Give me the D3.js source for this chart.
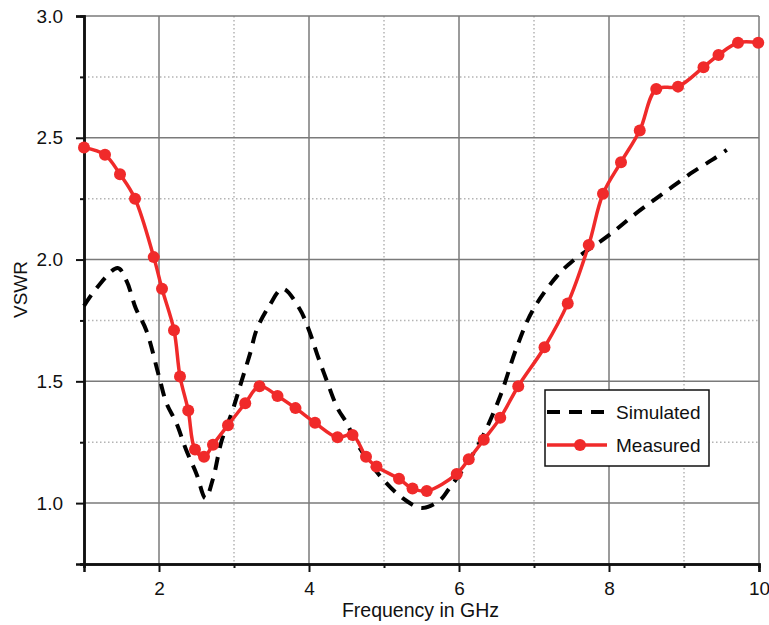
<!DOCTYPE html>
<html>
<head>
<meta charset="utf-8">
<script src="https://cdn.jsdelivr.net/npm/d3@7"></script>
<style>
  body { margin: 0; background: #fff; }
  text { font-family: Arial, "Liberation Sans", sans-serif; fill: #111; }
</style>
</head>
<body>
<div id="chart"></div>
<script>
// Data
const simFreq = [1.0, 1.16, 1.45, 1.57, 1.69, 1.83, 2.0, 2.1, 2.23, 2.36, 2.5, 2.62, 2.72, 2.83, 2.98, 3.1, 3.22, 3.3, 3.47, 3.65, 3.87, 4.0, 4.11, 4.24, 4.38, 4.5, 4.63, 4.8, 4.98, 5.25, 5.5, 5.74, 5.87, 6.1, 6.31, 6.55, 6.77, 6.98, 7.3, 7.5, 8.0, 8.32, 8.58, 8.85, 9.12, 9.38, 9.57];
const simVswr = [1.81, 1.88, 1.965, 1.91, 1.80, 1.71, 1.52, 1.41, 1.33, 1.22, 1.12, 1.02, 1.10, 1.25, 1.38, 1.50, 1.62, 1.71, 1.81, 1.88, 1.80, 1.71, 1.61, 1.50, 1.39, 1.33, 1.25, 1.17, 1.10, 1.02, 0.98, 1.01, 1.06, 1.16, 1.27, 1.44, 1.64, 1.79, 1.93, 1.99, 2.10, 2.18, 2.24, 2.30, 2.36, 2.41, 2.45];

const measFreq = [1.0, 1.28, 1.48, 1.68, 1.93, 2.04, 2.2, 2.28, 2.39, 2.48, 2.6, 2.72, 2.92, 3.15, 3.34, 3.58, 3.82, 4.08, 4.38, 4.58, 4.76, 4.9, 5.2, 5.38, 5.57, 5.97, 6.13, 6.33, 6.55, 6.79, 7.14, 7.45, 7.73, 7.92, 8.16, 8.41, 8.63, 8.92, 9.26, 9.46, 9.72, 9.99];
const measVswr = [2.46, 2.43, 2.35, 2.25, 2.01, 1.88, 1.71, 1.52, 1.38, 1.22, 1.19, 1.24, 1.32, 1.41, 1.48, 1.44, 1.39, 1.33, 1.27, 1.28, 1.19, 1.15, 1.10, 1.06, 1.05, 1.12, 1.18, 1.26, 1.35, 1.48, 1.64, 1.82, 2.06, 2.27, 2.40, 2.53, 2.70, 2.71, 2.79, 2.84, 2.89, 2.89];

const xMajor = [2, 4, 6, 8, 10];
const xMinor = [1, 3, 5, 7, 9];
const yMajor = [1.0, 1.5, 2.0, 2.5, 3.0];
const yMinor = [0.75, 1.25, 1.75, 2.25, 2.75];
const seriesNames = ["Simulated", "Measured"];

const margin = { top: 16, right: 10, bottom: 61, left: 84 };
const width = 769 - margin.left - margin.right;
const height = 625 - margin.top - margin.bottom;

const svg = d3.select("#chart")
    .append("svg")
    .attr("width", 769)
    .attr("height", 625)
    .append("g")
    .attr("transform", `translate(${margin.left},${margin.top})`);

const x = d3.scaleLinear().domain([1, 10]).range([0, width]);
const y = d3.scaleLinear().domain([0.75, 3.0]).range([height, 0]);

const red = "#f02a2a";

// minor grid (dotted)
svg.selectAll(".gx-minor").data(xMinor.filter(d => d > 1)).join("line")
    .attr("x1", d => x(d)).attr("x2", d => x(d))
    .attr("y1", 0).attr("y2", height)
    .attr("stroke", "#b4b4b4").attr("stroke-width", 1.5).attr("stroke-dasharray", "1.5,2.5");
svg.selectAll(".gy-minor").data(yMinor.filter(d => d > 0.75)).join("line")
    .attr("y1", d => y(d)).attr("y2", d => y(d))
    .attr("x1", 0).attr("x2", width)
    .attr("stroke", "#b4b4b4").attr("stroke-width", 1.5).attr("stroke-dasharray", "1.5,2.5");

// major grid (solid)
svg.selectAll(".gx-major").data(xMajor).join("line")
    .attr("x1", d => x(d)).attr("x2", d => x(d))
    .attr("y1", 0).attr("y2", height)
    .attr("stroke", "#7a7a7a").attr("stroke-width", 1.5);
svg.selectAll(".gy-major").data(yMajor).join("line")
    .attr("y1", d => y(d)).attr("y2", d => y(d))
    .attr("x1", 0).attr("x2", width)
    .attr("stroke", "#7a7a7a").attr("stroke-width", 1.5);

// axes
svg.append("g")
    .attr("transform", `translate(0,${height})`)
    .call(d3.axisBottom(x).tickValues(xMajor).tickFormat(d3.format("d")).tickSizeOuter(0).tickSize(8).tickPadding(10));
svg.append("g")
    .call(d3.axisLeft(y).tickValues(yMajor).tickFormat(d3.format(".1f")).tickSizeOuter(0).tickSize(8).tickPadding(13));
svg.append("g")
    .attr("transform", `translate(0,${height})`)
    .call(d3.axisBottom(x).tickValues(xMinor).tickFormat("").tickSizeOuter(0).tickSize(4));
svg.append("g")
    .call(d3.axisLeft(y).tickValues(yMinor).tickFormat("").tickSizeOuter(0).tickSize(4));

svg.selectAll(".domain").attr("stroke", "#111").attr("stroke-width", 2.5);
svg.selectAll(".tick line").attr("stroke", "#111").attr("stroke-width", 2);
svg.selectAll(".tick text").style("font-size", "19px").attr("fill", "#111");

// axis titles
svg.append("text")
    .attr("x", width / 2 - 1)
    .attr("y", height + 53)
    .attr("text-anchor", "middle")
    .style("font-size", "19.5px")
    .text("Frequency in GHz");

svg.append("text")
    .attr("transform", "rotate(-90)")
    .attr("x", -(y(2.0) + 30))
    .attr("y", -margin.left + 27)
    .attr("text-anchor", "middle")
    .style("font-size", "19px")
    .text("VSWR");

// series
const simData = simFreq.map((f, i) => ({ f, v: simVswr[i] }));
const measData = measFreq.map((f, i) => ({ f, v: measVswr[i] }));

const line = d3.line()
    .x(d => x(d.f))
    .y(d => y(d.v))
    .curve(d3.curveCatmullRom.alpha(0.5));

svg.append("path")
    .datum(simData)
    .attr("fill", "none")
    .attr("stroke", "#000")
    .attr("stroke-width", 4)
    .attr("stroke-dasharray", "13,9")
    .attr("d", line);

svg.append("path")
    .datum(measData)
    .attr("fill", "none")
    .attr("stroke", red)
    .attr("stroke-width", 3.5)
    .attr("d", line);

svg.selectAll(".meas-pt").data(measData).join("circle")
    .attr("cx", d => x(d.f))
    .attr("cy", d => y(d.v))
    .attr("r", 6)
    .attr("fill", red);

// legend
const lg = svg.append("g").attr("transform", `translate(${545 - margin.left},${390 - margin.top})`);
lg.append("rect")
    .attr("width", 164).attr("height", 76)
    .attr("fill", "#fff").attr("stroke", "#111").attr("stroke-width", 1.5);
lg.append("line")
    .attr("x1", 2).attr("x2", 62).attr("y1", 22).attr("y2", 22)
    .attr("stroke", "#000").attr("stroke-width", 4).attr("stroke-dasharray", "13,9");
lg.append("line")
    .attr("x1", 2).attr("x2", 62).attr("y1", 55).attr("y2", 55)
    .attr("stroke", red).attr("stroke-width", 3.5);
lg.append("circle").attr("cx", 35).attr("cy", 55).attr("r", 6).attr("fill", red);
lg.selectAll(".lt").data(seriesNames).join("text")
    .attr("x", 71)
    .attr("y", (d, i) => 22 + i * 33)
    .attr("dy", "0.36em")
    .style("font-size", "19px")
    .text(d => d);
</script>
</body>
</html>
